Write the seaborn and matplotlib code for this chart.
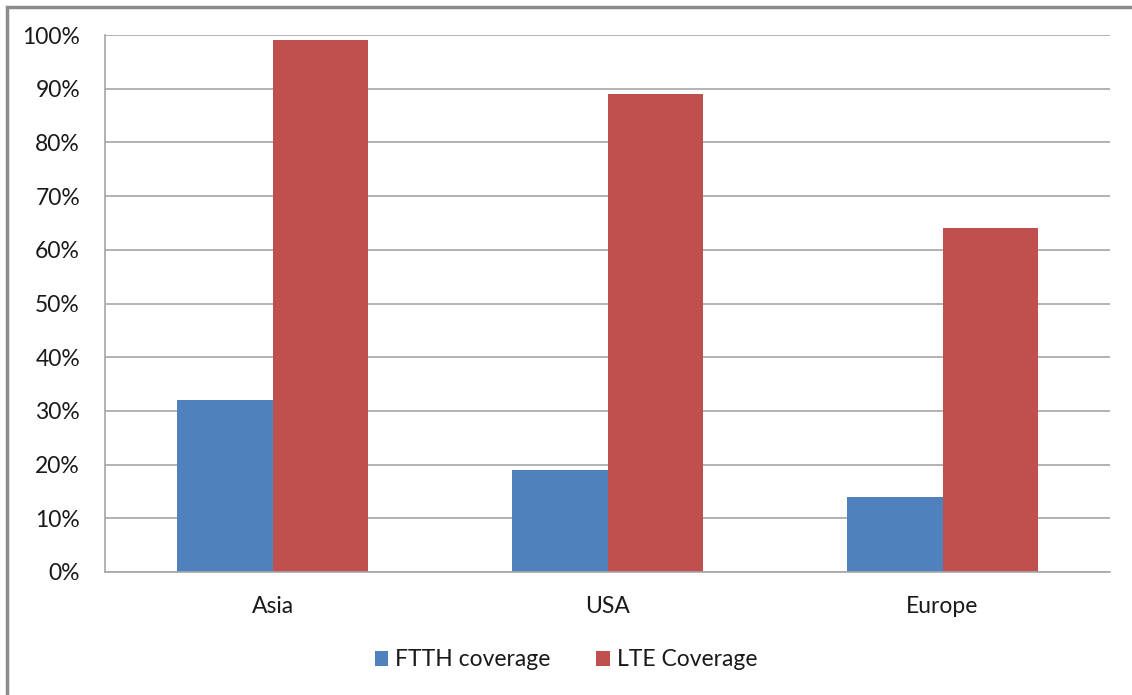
import pandas as pd
import seaborn as sns
import matplotlib.pyplot as plt
from matplotlib.patches import Rectangle
from matplotlib.ticker import FuncFormatter, FixedLocator

# Coverage data
regions = ["Asia", "USA", "Europe"]
ftth = [0.32, 0.19, 0.14]
lte = [0.99, 0.89, 0.64]
series_names = ["FTTH coverage", "LTE Coverage"]

df = pd.DataFrame({
    "Region": regions * 2,
    "Series": [series_names[0]] * 3 + [series_names[1]] * 3,
    "Value": ftth + lte,
})

sns.set_style("white")
plt.rcParams["font.family"] = ["Lato", "DejaVu Sans"]

fig = plt.figure(figsize=(11.32, 6.95), dpi=100)
ax = fig.add_axes([105 / 1132, 1 - 572 / 695, (1110 - 105) / 1132, (572 - 35) / 695])

sns.barplot(data=df, x="Region", y="Value", hue="Series",
            palette=["#4F81BD", "#C0504D"], width=0.571, saturation=1,
            linewidth=0, ax=ax, legend=True)

ax.set_xlim(-0.5, 2.5)
ax.set_ylim(0, 1)
ax.set_yticks([i / 10 for i in range(11)])
ax.yaxis.set_major_formatter(FuncFormatter(lambda v, p: f"{v:.0%}"))
ax.grid(axis="y", color="#A6A6A6", linewidth=1.2)
ax.set_axisbelow(True)
ax.set_xlabel("")
ax.set_ylabel("")

for s in ["top", "right"]:
    ax.spines[s].set_visible(False)
for s in ["left", "bottom"]:
    ax.spines[s].set_color("#A6A6A6")
    ax.spines[s].set_linewidth(1.2)

ax.tick_params(axis="y", length=8, color="#A6A6A6", width=1.2, labelsize=16.5,
               labelcolor="#1A1A1A", pad=10)
ax.tick_params(axis="x", which="major", length=0, labelsize=16.5,
               labelcolor="#1A1A1A", pad=17)
ax.xaxis.set_minor_locator(FixedLocator([-0.5, 0.5, 1.5, 2.5]))
ax.tick_params(axis="x", which="minor", length=7, color="#A6A6A6", width=1.2)

handles, labels = ax.get_legend_handles_labels()
ax.legend(handles, labels, loc="center", bbox_to_anchor=(0.5, (695 - 660) / 695),
          bbox_transform=fig.transFigure, ncol=2, frameon=False, fontsize=16.5,
          labelcolor="#1A1A1A", handlelength=0.6, handleheight=0.6,
          handletextpad=0.3, columnspacing=2.0)

# outer chart border (top and left visible, rest falls off the image)
fig.patches.append(Rectangle((7 / 1132, -0.1), 1.2, 1 - 7 / 695 + 0.1,
                             transform=fig.transFigure, fill=False,
                             edgecolor="#8C8C8C", linewidth=2.5))

fig.savefig("out.png", dpi=100)
